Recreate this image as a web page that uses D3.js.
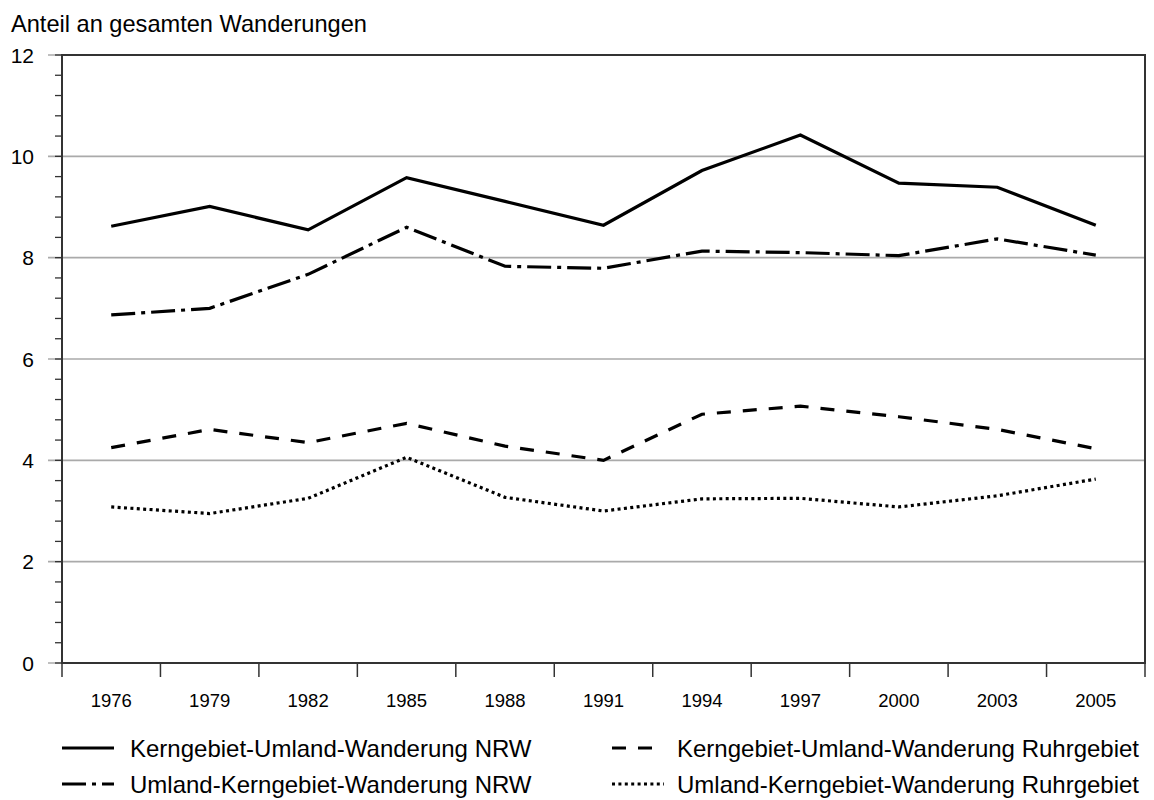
<!DOCTYPE html>
<html>
<head>
<meta charset="utf-8">
<script src="https://cdn.jsdelivr.net/npm/d3@7"></script>
<style>
  html, body { margin: 0; padding: 0; background: #fff; }
  svg { display: block; font-family: "Liberation Sans", Arial, sans-serif; }
</style>
</head>
<body>
<svg id="chart" width="1154" height="800"></svg>
<script>
// Survey years on the category axis
const years = ["1976", "1979", "1982", "1985", "1988", "1991", "1994", "1997", "2000", "2003", "2005"];

// Share of total migration (%), one array per flow
const kernUmlandNRW   = [8.62, 9.01, 8.55, 9.58, 9.11, 8.64, 9.72, 10.42, 9.47, 9.39, 8.64];
const umlandKernNRW   = [6.87, 7.00, 7.67, 8.60, 7.83, 7.79, 8.13, 8.10, 8.04, 8.37, 8.05];
const kernUmlandRuhr  = [4.25, 4.61, 4.35, 4.73, 4.28, 4.00, 4.91, 5.07, 4.86, 4.61, 4.23];
const umlandKernRuhr  = [3.08, 2.95, 3.25, 4.06, 3.27, 3.00, 3.24, 3.25, 3.08, 3.30, 3.63];

const seriesNames = [
  "Kerngebiet-Umland-Wanderung NRW",
  "Umland-Kerngebiet-Wanderung NRW",
  "Kerngebiet-Umland-Wanderung Ruhrgebiet",
  "Umland-Kerngebiet-Wanderung Ruhrgebiet"
];

const yTicks = [0, 2, 4, 6, 8, 10, 12];
const yAxisTitle = "Anteil an gesamten Wanderungen";

// Line styles per series
const dashes = [null, "24,6,4,6", "14,12", "3,3.4"];

const series = [kernUmlandNRW, umlandKernNRW, kernUmlandRuhr, umlandKernRuhr].map((vals, i) => ({
  name: seriesNames[i],
  dash: dashes[i],
  values: vals.map((v, j) => ({ year: years[j], value: v }))
}));

const svg = d3.select("#chart");
const plotLeft = 62, plotRight = 1145, plotTop = 55, plotBottom = 663;

const x = d3.scaleBand().domain(years).range([plotLeft, plotRight]).paddingInner(0).paddingOuter(0);
const y = d3.scaleLinear().domain([0, 12]).range([plotBottom, plotTop]);

// Horizontal grid lines (also extend left as major ticks)
svg.append("g")
  .selectAll("line")
  .data(yTicks)
  .join("line")
  .attr("x1", plotLeft - 14)
  .attr("x2", plotRight)
  .attr("y1", d => y(d))
  .attr("y2", d => y(d))
  .attr("stroke", "#aaaaaa")
  .attr("stroke-width", 1.6);

// Minor y ticks every 0.4
const minor = d3.range(0, 12.0001, 0.4);
svg.append("g")
  .selectAll("line")
  .data(minor)
  .join("line")
  .attr("x1", plotLeft - 7)
  .attr("x2", plotLeft)
  .attr("y1", d => y(d))
  .attr("y2", d => y(d))
  .attr("stroke", "#333")
  .attr("stroke-width", 1.3);

// Y tick labels
svg.append("g")
  .selectAll("text")
  .data(yTicks)
  .join("text")
  .attr("x", 34)
  .attr("y", d => y(d))
  .attr("dy", "0.36em")
  .attr("text-anchor", "end")
  .attr("font-size", 21)
  .attr("fill", "#000")
  .text(d => d);

// Plot frame
svg.append("rect")
  .attr("x", plotLeft)
  .attr("y", plotTop)
  .attr("width", plotRight - plotLeft)
  .attr("height", plotBottom - plotTop)
  .attr("fill", "none")
  .attr("stroke", "#333")
  .attr("stroke-width", 2);

// X axis ticks at category boundaries
const xBounds = years.map(d => x(d)).concat([x(years[years.length - 1]) + x.bandwidth()]);
svg.append("g")
  .selectAll("line")
  .data(xBounds)
  .join("line")
  .attr("x1", d => d)
  .attr("x2", d => d)
  .attr("y1", plotBottom)
  .attr("y2", plotBottom + 14)
  .attr("stroke", "#333")
  .attr("stroke-width", 1.5);

// X tick labels
svg.append("g")
  .selectAll("text")
  .data(years)
  .join("text")
  .attr("x", d => x(d) + x.bandwidth() / 2)
  .attr("y", 707)
  .attr("text-anchor", "middle")
  .attr("font-size", 18.5)
  .attr("fill", "#000")
  .text(d => d);

// Y axis title
svg.append("text")
  .attr("x", 11)
  .attr("y", 31.5)
  .attr("font-size", 23.6)
  .attr("fill", "#000")
  .text(yAxisTitle);

// Series lines
const line = d3.line()
  .x(d => x(d.year) + x.bandwidth() / 2)
  .y(d => y(d.value));

svg.append("g")
  .selectAll("path")
  .data(series)
  .join("path")
  .attr("d", d => line(d.values))
  .attr("fill", "none")
  .attr("stroke", "#000")
  .attr("stroke-width", 3.2)
  .attr("stroke-linejoin", "miter")
  .attr("stroke-dasharray", d => d.dash);

// Legend: two columns, two rows
const legendPos = [
  { sx: 62, tx: 130, y: 748, by: 756.5 },
  { sx: 62, tx: 130, y: 784, by: 792.5 },
  { sx: 612, tx: 677, y: 748, by: 756.5 },
  { sx: 612, tx: 677, y: 784, by: 792.5 }
];

const legend = svg.append("g")
  .selectAll("g")
  .data(series)
  .join("g");

legend.append("line")
  .attr("x1", (d, i) => legendPos[i].sx)
  .attr("x2", (d, i) => legendPos[i].sx + 52)
  .attr("y1", (d, i) => legendPos[i].y)
  .attr("y2", (d, i) => legendPos[i].y)
  .attr("stroke", "#000")
  .attr("stroke-width", 3.2)
  .attr("stroke-dasharray", d => d.dash);

legend.append("text")
  .attr("x", (d, i) => legendPos[i].tx)
  .attr("y", (d, i) => legendPos[i].by)
  .attr("font-size", 24)
  .attr("fill", "#000")
  .text(d => d.name);
</script>
</body>
</html>
